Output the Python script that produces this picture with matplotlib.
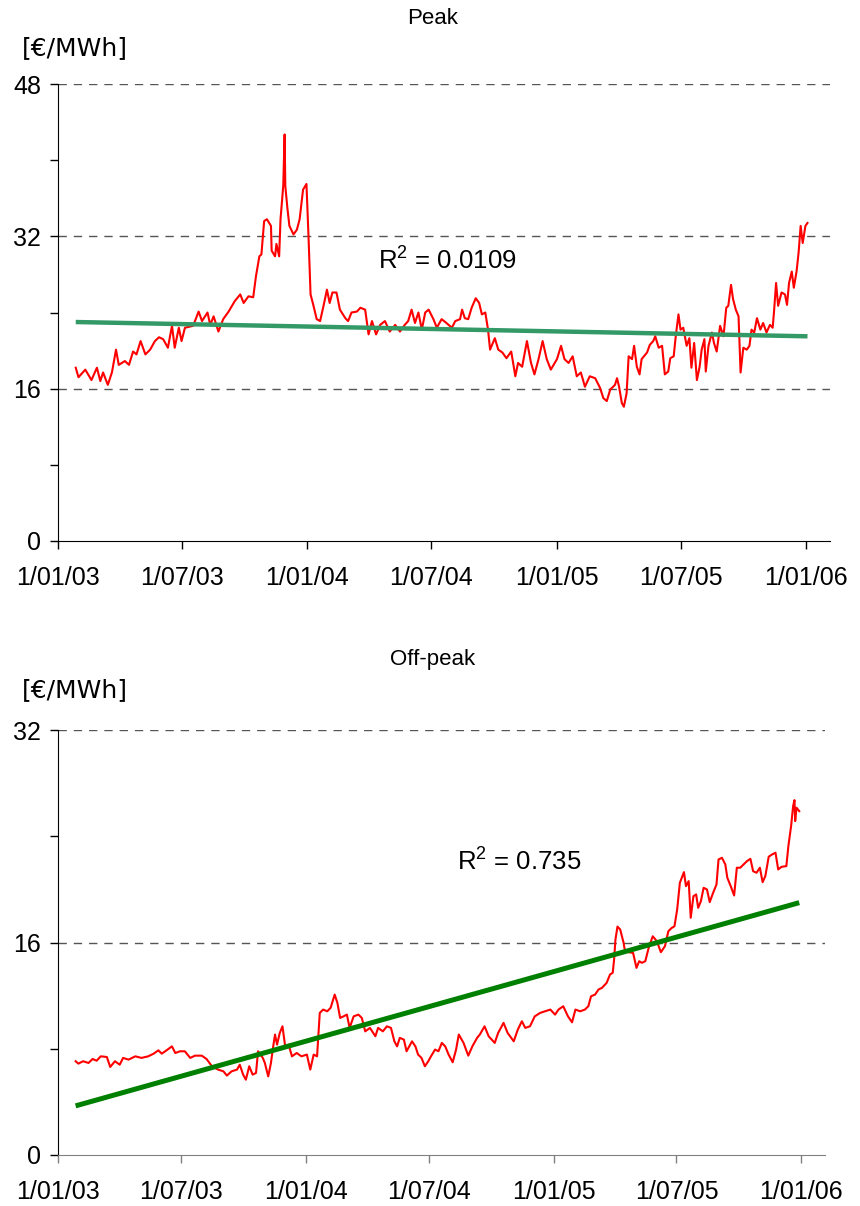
import numpy as np
import pandas as pd
import matplotlib
matplotlib.use('Agg')
import matplotlib.pyplot as plt
from matplotlib.ticker import MultipleLocator

plt.rcParams['font.family'] = ['Liberation Sans', 'DejaVu Sans']
plt.rcParams['mathtext.fontset'] = 'custom'
plt.rcParams['mathtext.rm'] = 'Liberation Sans'
plt.rcParams['mathtext.it'] = 'Liberation Sans'

start = pd.Timestamp('2003-01-01')

# peak prices: day offset from 1 Jan 2003, price in EUR/MWh
peak_days = [26, 30, 40, 49, 57, 62, 66, 73, 79, 85, 89, 98, 104, 110, 115, 121, 128, 135, 142, 148,
             154, 161, 167, 171, 177, 181, 186, 198, 206, 211, 219, 223, 228, 235, 242, 250, 259, 267, 272,
             279, 286, 290, 295, 298, 302, 306, 312, 313, 318, 320, 324, 326, 330, 332, 333, 336, 339,
             345, 350, 354, 359, 364, 367, 370, 374, 379, 384, 389, 394, 398, 402, 408, 413, 421, 425,
             430, 438, 443, 450, 455, 460, 466, 472, 479, 486, 494, 501, 508, 513, 518, 523, 528, 533,
             538, 543, 550, 555, 562, 569, 577, 582, 589, 592, 596, 601, 606, 612, 617, 621, 626, 630,
             633, 640, 645, 651, 657, 664, 670, 674, 680, 687, 693, 698, 704, 710, 716, 722, 731, 737,
             742, 748, 754, 760, 766, 772, 779, 787, 794, 799, 804, 809, 816, 819, 822, 826, 829, 833,
             836, 841, 844, 848, 852, 855, 863, 867, 872, 875, 880, 885, 889, 894, 897, 902, 905, 909,
             912, 916, 921, 925, 928, 932, 936, 940, 943, 947, 949, 953, 958, 961, 965, 970, 975, 979,
             982, 986, 989, 993, 997, 1000, 1004, 1009, 1013, 1016, 1020, 1024, 1029, 1033, 1038, 1043,
             1047, 1049, 1052, 1055, 1060, 1065, 1068, 1071, 1075, 1078, 1082, 1085, 1088, 1091, 1095, 1098]
peak_price = [18.2, 17.2, 18.0, 16.9, 18.2, 16.8, 17.7, 16.4, 17.7, 20.1, 18.5, 18.9, 18.5, 19.9, 19.6,
              21.0, 19.6, 20.1, 21.0, 21.4, 21.2, 20.3, 22.6, 20.3, 22.4, 21.0, 22.4, 22.6, 24.1, 23.1,
              24.0, 22.7, 23.6, 22.0, 23.3, 24.1, 25.2, 25.9, 25.0,
              25.7, 25.6, 27.8, 29.9, 30.1, 33.6, 33.8, 33.1, 30.5, 29.9, 31.2, 29.9, 33.8, 37.3, 42.7,
              37.3, 35.0, 33.1, 32.2, 32.7, 33.8, 36.9, 37.5, 32.0, 25.9, 24.8, 23.3, 23.1, 24.7, 26.4,
              25.0, 26.1, 26.1, 24.3, 23.4, 23.1, 24.0, 24.1, 24.5, 24.3, 21.7, 23.1, 21.7, 22.7, 23.1,
              22.0, 22.7, 22.0, 22.7, 23.1, 24.3, 22.9, 24.0, 22.2, 24.0, 24.3,
              23.3, 22.4, 23.3, 22.9, 22.4, 23.1, 23.3, 24.3, 23.4, 23.3, 24.5, 25.5, 25.0, 23.8, 24.0,
              22.2, 20.1, 21.3, 20.1, 19.8, 19.2, 19.9, 17.3, 18.7, 18.3, 21.0, 18.7, 17.5, 19.1, 21.0,
              19.1, 18.0, 19.1, 20.5, 19.1, 18.7, 19.4, 17.3, 17.7, 16.2, 17.3, 17.1, 16.1, 15.0, 14.7,
              15.9, 16.4,
              17.1, 16.2, 14.5, 14.1, 15.5, 19.4, 19.1, 20.5, 18.3, 17.5, 19.1, 19.8, 20.6, 21.0, 21.5,
              20.3, 20.5, 17.5, 17.8, 19.2, 19.4, 21.5, 23.8, 22.2, 22.4, 20.5, 21.3, 18.2, 20.8, 16.9,
              18.3, 20.1, 21.2, 17.8, 20.5, 21.9, 20.8, 19.9, 22.6, 21.5, 24.5, 24.7, 26.9, 25.4, 24.3,
              23.6, 17.7, 20.3, 20.1, 20.5, 22.2, 21.9, 23.4, 22.2, 22.9, 21.9, 22.7, 22.4, 24.1, 27.1,
              24.7, 26.1, 25.9, 24.8, 27.1, 28.3, 26.6, 28.3, 30.3, 33.1, 31.3, 33.1, 33.4]
# linear trend at first and last day
peak_trend = [23.0, 21.5]

# off-peak prices
off_days = [26, 30, 37, 45, 51, 57, 63, 72, 77, 84, 91, 96, 104, 114, 123, 133, 141, 148, 153, 160,
            168, 173, 180, 187, 195, 202, 212, 219, 227, 236, 244, 249, 256, 264, 268, 273,
            277, 282, 287, 292, 295, 302, 305, 310, 314, 317, 320, 323, 327, 331, 335, 340, 345, 352,
            359, 367, 372, 377, 382, 386, 391, 397, 402, 408, 412, 416, 421, 426, 430, 436, 443, 448,
            453, 460, 468, 472, 479, 485, 491, 496, 500, 504, 510, 514, 522, 527, 531, 536, 541, 546,
            550, 556, 561, 566, 571, 576, 582, 587, 591, 598, 605, 611, 618, 622, 629, 635, 644, 649,
            657, 663, 672, 678, 684, 689, 696, 703, 711, 718, 726, 733, 738, 745, 752, 758, 763, 770,
            777, 782, 786, 792, 797, 802, 809, 814, 818, 820, 822,
            825, 829, 834, 836, 841, 848, 853, 857, 861, 866, 871, 877, 883, 889, 895, 900, 905, 909,
            913, 917, 923, 926, 930, 933, 937, 941, 944, 948, 952, 957, 961, 966, 971, 974, 979, 984,
            987, 992, 997, 1001, 1006, 1011, 1016, 1021, 1025, 1030, 1035, 1039, 1043, 1048, 1053,
            1058, 1062, 1067, 1074, 1077, 1081, 1084, 1086, 1087, 1089, 1093]
off_price = [7.06, 6.88, 7.06, 6.93, 7.23, 7.10, 7.43, 7.38, 6.63, 7.06, 6.80, 7.31, 7.18, 7.43, 7.31,
             7.43, 7.63, 7.88, 7.63, 7.88, 8.18, 7.68, 7.81, 7.81, 7.31, 7.48, 7.48, 7.23, 6.68, 6.43,
             6.30, 5.98, 6.30, 6.43, 6.80, 6.05,
             5.67, 6.68, 6.05, 6.18, 7.81, 7.31, 6.93, 5.92, 6.93, 8.06, 9.07, 8.31, 9.19, 9.69, 8.18,
             8.31, 7.43, 7.68, 7.43, 7.56, 6.43, 7.56, 7.43, 10.70, 10.95, 10.82, 11.08, 12.08, 11.45,
             10.32, 10.44, 10.57, 9.57, 10.44, 10.57, 10.32, 9.31, 9.57, 8.94, 9.57, 9.31, 9.69, 9.57,
             8.56, 8.18, 8.82, 8.69, 7.81, 8.56, 8.18, 7.56, 7.31, 6.68, 7.06,
             7.43, 7.94, 7.81, 8.44, 8.18, 7.56, 6.98, 7.94, 9.07, 8.44, 7.48, 8.18, 8.82, 9.07, 9.69,
             8.94, 8.44, 9.19, 9.95, 9.19, 8.56, 9.44, 10.07, 9.57, 9.69, 10.44, 10.70, 10.82, 10.95,
             10.57, 10.95, 11.20, 10.44, 9.99, 10.95, 10.82, 10.95, 11.20, 11.95, 12.08, 12.46, 12.58,
             12.96, 13.59, 13.72, 14.72, 16.22,
             17.20, 16.98, 15.98, 15.35, 15.27, 15.22, 14.09, 14.59, 14.47, 14.59, 15.60, 16.47, 16.10,
             15.27, 15.72, 16.85, 17.10, 17.22, 18.48, 20.50, 21.30, 20.24, 20.62, 17.86, 19.49, 19.62,
             18.61, 19.11, 20.12, 19.99, 19.04, 19.74, 20.37, 22.25, 22.38, 21.88, 20.87, 20.24, 19.54,
             21.63, 21.63, 21.88, 22.13, 22.30, 21.37, 21.25, 21.63, 20.54, 21.00, 22.46, 22.63, 22.76,
             21.50, 21.70, 21.75, 23.26, 24.76, 26.27, 26.72, 25.14, 26.15, 25.89]
off_trend = [3.7, 19.0]

tick_dates = ['2003-01-01', '2003-07-01', '2004-01-01', '2004-07-01',
              '2005-01-01', '2005-07-01', '2006-01-01']
tick_labels = ['1/01/03', '1/07/03', '1/01/04', '1/07/04', '1/01/05', '1/07/05', '1/01/06']

panels = [
    dict(title='Peak', days=peak_days, price=peak_price, trend=peak_trend, ymax=48,
         r2=r'R$^{2}$ = 0.0109', trend_color='#339966', trend_lw=3.2, bottom_color='black',
         rect=[58 / 860, 1 - 541 / 1206, 772 / 860, 457 / 1206],
         title_y=18, unit_y=48, r2_xy=(378, 261)),
    dict(title='Off-peak', days=off_days, price=off_price, trend=off_trend, ymax=32,
         r2=r'R$^{2}$ = 0.735', trend_color='#008000', trend_lw=3.6, bottom_color='#808080',
         rect=[58 / 860, 1 - 1155 / 1206, 767 / 860, 425 / 1206],
         title_y=660, unit_y=690, r2_xy=(457, 862)),
]

fig = plt.figure(figsize=(8.6, 12.06), dpi=100)

for p in panels:
    ax = fig.add_axes(p['rect'])
    d = np.array(p['days'])
    x = start + pd.to_timedelta(d, unit='D')

    ax.plot(x, p['price'], color='#ff0000', lw=1.5, zorder=3)

    # trend line between first and last day
    td = [d[0], d[-1]]
    ax.plot(start + pd.to_timedelta(td, unit='D'), p['trend'],
            color=p['trend_color'], lw=p['trend_lw'], solid_capstyle='butt', zorder=4)

    ax.set_ylim(0, p['ymax'])
    ax.yaxis.set_major_locator(MultipleLocator(16))
    ax.yaxis.set_minor_locator(MultipleLocator(8))
    for g in range(16, p['ymax'] + 1, 16):
        ax.axhline(g, color='#555555', lw=1.0, dashes=(6, 5), zorder=1)

    ax.set_xlim(start, start + pd.Timedelta(days=1131))
    ax.set_xticks(pd.to_datetime(tick_dates))
    ax.set_xticklabels(tick_labels)

    for s in ['top', 'right']:
        ax.spines[s].set_visible(False)
    ax.spines['left'].set_color('black')
    ax.spines['bottom'].set_color(p['bottom_color'])
    ax.tick_params(axis='both', which='both', direction='out', length=6, width=1,
                   labelsize=18, colors='black')
    ax.tick_params(axis='x', pad=12)
    ax.tick_params(axis='y', pad=6)
    ax.tick_params(axis='x', which='major', color=p['bottom_color'])

    fig.text(433 / 860, 1 - p['title_y'] / 1206, p['title'], ha='center', va='center', fontsize=16)
    fig.text(22 / 860, 1 - p['unit_y'] / 1206, '[€/MWh]', ha='left', va='center',
             fontsize=18, family=['DejaVu Sans'])
    fig.text(p['r2_xy'][0] / 860, 1 - p['r2_xy'][1] / 1206, p['r2'], ha='left', va='center',
             fontsize=18.5)

fig.savefig('out.png', dpi=100)
